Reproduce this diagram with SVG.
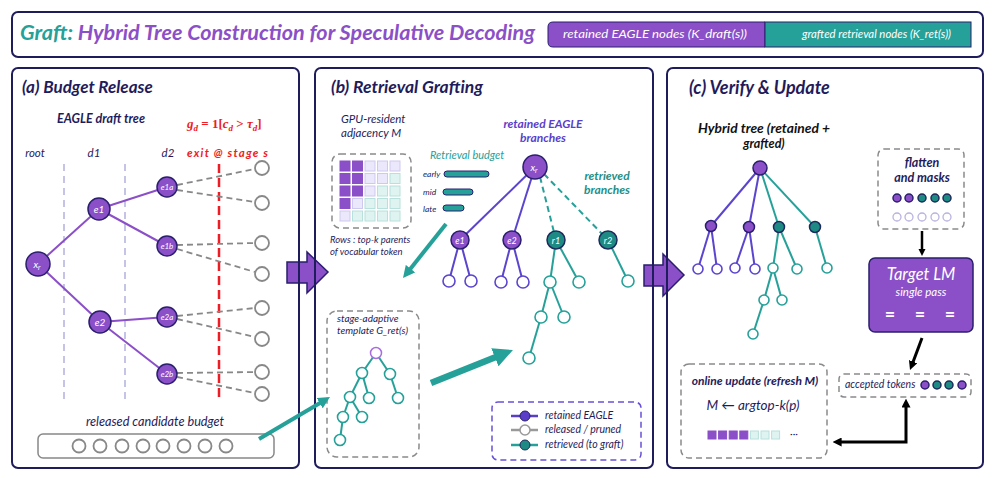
<svg xmlns="http://www.w3.org/2000/svg" width="996" height="478" viewBox="0 0 996 478">
<defs>
<style>
.t{font-family:Lato,"Liberation Sans",sans-serif;font-style:italic}
.b{font-weight:bold}
.navy{fill:#1f1c5c}
.white{fill:#ffffff}
.panel{fill:none;stroke:#1f1c5c;stroke-width:2}
.dbox{fill:none;stroke:#8a8a8a;stroke-width:1.5;stroke-dasharray:6 4}
.pn{fill:#8b4fc8;stroke:#2a1f6e;stroke-width:1.5}
.tn{fill:#1e8a84;stroke:#1f2a5c;stroke-width:1.5}
.hp{fill:#ffffff;stroke:#5b45cf;stroke-width:1.6}
.ht{fill:#ffffff;stroke:#26a199;stroke-width:1.6}
.hg{fill:#ffffff;stroke:#888888;stroke-width:1.8}
.lp{stroke:#8b4fc8;stroke-width:2;fill:none}
.lb{stroke:#5b45cf;stroke-width:2;fill:none}
.lt{stroke:#26a199;stroke-width:2;fill:none}
.lg{stroke:#888888;stroke-width:1.8;stroke-dasharray:6 4;fill:none}
.ltd{stroke:#26a199;stroke-width:2;stroke-dasharray:6 4;fill:none}
.vd{stroke:#c5c3e6;stroke-width:2;stroke-dasharray:7 5}
.rd{stroke:#ee1c24;stroke-width:2.5;stroke-dasharray:9 5}
.ta{stroke:#26a199;fill:none;marker-end:url(#tah)}
.ka{stroke:#000000;fill:none}
.big{fill:#8b4fc8;stroke:#2a1f6e;stroke-width:1.5}
.cp{fill:#8b4fc8;stroke:#8b4fc8;stroke-width:1}
.cl{fill:#ebe8fb;stroke:#cfc9f0;stroke-width:1}
.ct{fill:#dff3f1;stroke:#b8e0dc;stroke-width:1}
.bar{fill:#26a199;stroke:#2a2170;stroke-width:1}
.eq{fill:#ffffff;font-family:Lato,"Liberation Sans",sans-serif;font-weight:bold;font-size:18px}
</style>
<marker id="tah" viewBox="0 0 10 10" refX="4" refY="5" markerWidth="3" markerHeight="3" orient="auto" markerUnits="strokeWidth">
<path d="M0,0 L10,5 L0,10 z" fill="#26a199"/>
</marker>
<marker id="kah" viewBox="0 0 10 10" refX="4" refY="5" markerWidth="3" markerHeight="3" orient="auto-start-reverse" markerUnits="strokeWidth">
<path d="M0,0 L10,5 L0,10 z" fill="#000000"/>
</marker>
</defs>
<rect width="996" height="478" fill="#ffffff"/>

<!-- Title bar -->
<g id="title">
<rect x="12" y="12" width="971" height="45" rx="6" class="panel"/>
<text x="20" y="40" class="t b" font-size="20" textLength="515" lengthAdjust="spacingAndGlyphs"><tspan fill="#26a199">Graft:</tspan><tspan fill="#8b4fc8"> Hybrid Tree Construction for Speculative Decoding</tspan></text>
</g>
<g id="legend-bar">
<path d="M553,22 H765 V47 H553 Q548,47 548,42 V27 Q548,22 553,22 Z" fill="#8b4fc8" stroke="#2a1f6e" stroke-width="1"/>
<rect x="765" y="22" width="206" height="25" fill="#26a199" stroke="#2a1f6e" stroke-width="1"/>
<text x="563" y="38" class="t white" font-size="12" textLength="184" lengthAdjust="spacingAndGlyphs">retained EAGLE nodes (K_draft(s))</text>
<text x="802" y="38" class="t white" font-size="11" textLength="149" lengthAdjust="spacingAndGlyphs">grafted retrieval nodes (K_ret(s))</text>
</g>

<!-- Block arrows between panels -->
<g id="arrow-ab">
<path d="M287,262 H307 V252 L328,272 L307,293 V283 H287 Z" class="big"/>
</g>
<g id="arrow-bc">
<path d="M644,265 H663 V254 L684,275 L663,296 V286 H644 Z" class="big"/>
</g>

<!-- Panels -->
<g id="panel-a">
<rect x="12" y="68" width="287" height="400" rx="6" class="panel"/>
<text x="22" y="93" class="t b navy" font-size="17">(a) Budget Release</text>
<text x="101" y="123" class="t b navy" font-size="12.5" text-anchor="middle">EAGLE draft tree</text>
<text x="187" y="128" fill="#ee1c24" font-family="'Liberation Serif',serif" font-style="italic" font-weight="bold" font-size="13">g<tspan font-size="9" dy="3">d</tspan><tspan dy="-3" font-style="normal"> = 1[</tspan>c<tspan font-size="9" dy="3">d</tspan><tspan dy="-3" font-style="normal"> &gt; </tspan>τ<tspan font-size="9" dy="3">d</tspan><tspan dy="-3" font-style="normal">]</tspan></text>
<text x="35" y="157" class="t navy" font-size="11.5" text-anchor="middle">root</text>
<text x="94" y="157" class="t navy" font-size="11.5" text-anchor="middle">d1</text>
<text x="168" y="157" class="t navy" font-size="11.5" text-anchor="middle">d2</text>
<text x="187" y="157" class="t b" fill="#ee1c24" font-size="11.5" textLength="81">exit @ stage s</text>
<line x1="64" y1="164" x2="64" y2="402" class="vd"/>
<line x1="125" y1="164" x2="125" y2="402" class="vd"/>
<line x1="219" y1="164" x2="219" y2="402" class="rd"/>
<text x="155" y="426" class="t navy" font-size="12.7" text-anchor="middle">released candidate budget</text>
<rect x="38" y="434" width="236" height="24" rx="5" fill="#ffffff" stroke="#888888" stroke-width="1.5"/>
<g id="budget-slots">
<circle cx="79" cy="446" r="6.5" class="hg"/>
<circle cx="100" cy="446" r="6.5" class="hg"/>
<circle cx="122" cy="446" r="6.5" class="hg"/>
<circle cx="143" cy="446" r="6.5" class="hg"/>
<circle cx="163" cy="446" r="6.5" class="hg"/>
<circle cx="184" cy="446" r="6.5" class="hg"/>
<circle cx="205" cy="446" r="6.5" class="hg"/>
<circle cx="226" cy="446" r="6.5" class="hg"/>
</g>
</g>

<g id="panel-b">
<rect x="315" y="68" width="338" height="400" rx="6" class="panel"/>
<text x="331" y="93" class="t b navy" font-size="17.5">(b) Retrieval Grafting</text>
<text x="341" y="123" class="t navy" font-size="11.5">GPU-resident</text>
<text x="341" y="137" class="t navy" font-size="11.5">adjacency M</text>
<rect x="332" y="154" width="79" height="74" rx="8" class="dbox"/>
<g id="adjacency-grid">
<rect x="340" y="161" width="10" height="10" class="cp"/><rect x="352.5" y="161" width="10" height="10" class="cp"/><rect x="365" y="161" width="10" height="10" class="cl"/><rect x="377.5" y="161" width="10" height="10" class="cl"/><rect x="390" y="161" width="10" height="10" class="cl"/>
<rect x="340" y="173.5" width="10" height="10" class="cp"/><rect x="352.5" y="173.5" width="10" height="10" class="cp"/><rect x="365" y="173.5" width="10" height="10" class="cl"/><rect x="377.5" y="173.5" width="10" height="10" class="cl"/><rect x="390" y="173.5" width="10" height="10" class="ct"/>
<rect x="340" y="186" width="10" height="10" class="cp"/><rect x="352.5" y="186" width="10" height="10" class="cp"/><rect x="365" y="186" width="10" height="10" class="cl"/><rect x="377.5" y="186" width="10" height="10" class="ct"/><rect x="390" y="186" width="10" height="10" class="ct"/>
<rect x="340" y="198.5" width="10" height="10" class="cp"/><rect x="352.5" y="198.5" width="10" height="10" class="cl"/><rect x="365" y="198.5" width="10" height="10" class="ct"/><rect x="377.5" y="198.5" width="10" height="10" class="ct"/><rect x="390" y="198.5" width="10" height="10" class="ct"/>
<rect x="340" y="211" width="10" height="10" class="cl"/><rect x="352.5" y="211" width="10" height="10" class="ct"/><rect x="365" y="211" width="10" height="10" class="ct"/><rect x="377.5" y="211" width="10" height="10" class="ct"/><rect x="390" y="211" width="10" height="10" class="ct"/>
</g>
<text x="330" y="243" class="t navy" font-size="9.5">Rows : top-k parents</text>
<text x="330" y="254.5" class="t navy" font-size="9.5">of vocabular token</text>
<text x="430" y="159" class="t" fill="#26a199" font-size="11">Retrieval budget</text>
<text x="423" y="177" class="t navy" font-size="8.5">early</text>
<text x="423" y="195" class="t navy" font-size="8.5">mid</text>
<text x="423" y="212" class="t navy" font-size="8.5">late</text>
<rect x="444" y="171" width="45" height="6" rx="3" class="bar"/>
<rect x="443" y="189" width="30" height="6" rx="3" class="bar"/>
<rect x="443" y="205" width="21" height="6" rx="3" class="bar"/>
<text x="543" y="128" class="t b" fill="#5b3fc9" font-size="12" text-anchor="middle">retained EAGLE</text>
<text x="543" y="142" class="t b" fill="#5b3fc9" font-size="12" text-anchor="middle">branches</text>
<text x="607" y="180" class="t b" fill="#1f8f87" font-size="12" text-anchor="middle">retrieved</text>
<text x="607" y="194" class="t b" fill="#1f8f87" font-size="12" text-anchor="middle">branches</text>
<rect x="327" y="311" width="92" height="146" rx="10" class="dbox"/>
<text x="337" y="321.5" class="t navy" font-size="10">stage-adaptive</text>
<text x="337" y="334" class="t navy" font-size="10">template G_ret(s)</text>
<rect x="492" y="402" width="149" height="58" rx="6" fill="none" stroke="#6a50d8" stroke-width="1.5" stroke-dasharray="6 4"/>
<g id="legend-b">
<line x1="511" y1="416" x2="538" y2="416" stroke="#5a3ec8" stroke-width="2.5"/>
<circle cx="525" cy="416" r="5" fill="#5a3ec8" stroke="#2a1f6e" stroke-width="1"/>
<line x1="511" y1="430" x2="538" y2="430" stroke="#999999" stroke-width="2.5"/>
<circle cx="525" cy="430" r="5" fill="#ffffff" stroke="#999999" stroke-width="1.5"/>
<line x1="511" y1="445" x2="538" y2="445" stroke="#26a199" stroke-width="2.5"/>
<circle cx="525" cy="445" r="5" fill="#1e8a84" stroke="#1f2a5c" stroke-width="1"/>
<text x="545" y="419" class="t navy" font-size="10.5">retained EAGLE</text>
<text x="545" y="433" class="t navy" font-size="10.5">released / pruned</text>
<text x="545" y="448" class="t navy" font-size="10.5">retrieved (to graft)</text>
</g>
</g>

<g id="panel-c">
<rect x="667" y="68" width="316" height="400" rx="6" class="panel"/>
<text x="689" y="94" class="t b navy" font-size="18">(c) Verify &amp; Update</text>
<text x="764" y="133" class="t b" fill="#111111" font-size="12.5" text-anchor="middle" textLength="132" lengthAdjust="spacingAndGlyphs">Hybrid tree (retained +</text>
<text x="764" y="148" class="t b" fill="#111111" font-size="12.5" text-anchor="middle">grafted)</text>
<g id="flatten">
<rect x="878" y="149" width="86" height="80" rx="6" class="dbox"/>
<text x="922" y="167" class="t b navy" font-size="12.5" text-anchor="middle">flatten</text>
<text x="922" y="182" class="t b navy" font-size="12.5" text-anchor="middle">and masks</text>
<circle cx="897" cy="198" r="4" class="pn" stroke-width="1"/>
<circle cx="909" cy="198" r="4" class="pn" stroke-width="1"/>
<circle cx="922" cy="198" r="4" class="tn" stroke-width="1"/>
<circle cx="935" cy="198" r="4" class="tn" stroke-width="1"/>
<circle cx="947" cy="198" r="4" class="tn" stroke-width="1"/>
<circle cx="897" cy="217" r="4" fill="#ffffff" stroke="#b9b3e0" stroke-width="1.3"/>
<circle cx="909" cy="217" r="4" fill="#ffffff" stroke="#b9b3e0" stroke-width="1.3"/>
<circle cx="922" cy="217" r="4" fill="#ffffff" stroke="#b9b3e0" stroke-width="1.3"/>
<circle cx="935" cy="217" r="4" fill="#ffffff" stroke="#b9b3e0" stroke-width="1.3"/>
<circle cx="947" cy="217" r="4" fill="#ffffff" stroke="#b9b3e0" stroke-width="1.3"/>
</g>
<g id="target-lm">
<rect x="869" y="258" width="104" height="74" rx="6" fill="#8b4fc8" stroke="#2a1f6e" stroke-width="1.5"/>
<text x="921" y="280" class="t white" font-size="16.5" text-anchor="middle">Target LM</text>
<text x="921" y="296" class="t white" font-size="11.5" text-anchor="middle">single pass</text>
<text x="890" y="321" class="eq" text-anchor="middle">=</text>
<text x="920" y="321" class="eq" text-anchor="middle">=</text>
<text x="950" y="321" class="eq" text-anchor="middle">=</text>
</g>
<g id="accepted">
<rect x="839" y="374" width="132" height="23" rx="5" class="dbox"/>
<text x="845" y="388" class="t navy" font-size="10.5">accepted tokens</text>
<circle cx="925" cy="385" r="4" class="pn" stroke-width="1"/>
<circle cx="937" cy="385" r="4" class="tn" stroke-width="1"/>
<circle cx="949" cy="385" r="4" class="tn" stroke-width="1"/>
<circle cx="962" cy="385" r="4" class="pn" stroke-width="1"/>
</g>
<g id="online-update">
<rect x="681" y="364" width="146" height="94" rx="8" class="dbox"/>
<text x="755" y="385" class="t b navy" font-size="12" text-anchor="middle">online update (refresh M)</text>
<text x="753" y="410" class="t navy" font-size="13.5" text-anchor="middle">M ← argtop-k(p)</text>
<rect x="708" y="431" width="8" height="8" class="cp"/>
<rect x="718.6" y="431" width="8" height="8" class="cp"/>
<rect x="729.2" y="431" width="8" height="8" class="cp"/>
<rect x="739.8" y="431" width="8" height="8" class="cp"/>
<rect x="750.4" y="431" width="8" height="8" class="ct"/>
<rect x="761" y="431" width="8" height="8" class="ct"/>
<rect x="771.6" y="431" width="8" height="8" class="ct"/>
<text x="794" y="437" class="navy" font-family="Lato,'Liberation Sans',sans-serif" font-size="10" text-anchor="middle">···</text>
</g>
</g>

<!-- Connectors -->
<g id="connectors">
<line x1="38" y1="264" x2="99" y2="209" class="lp"/>
<line x1="38" y1="264" x2="100" y2="322" class="lp"/>
<line x1="99" y1="209" x2="167" y2="187" class="lp"/>
<line x1="99" y1="209" x2="167" y2="246" class="lp"/>
<line x1="100" y1="322" x2="167" y2="317" class="lp"/>
<line x1="100" y1="322" x2="167" y2="374" class="lp"/>
<line x1="177" y1="185" x2="255" y2="169" class="lg"/>
<line x1="177" y1="190" x2="255" y2="202" class="lg"/>
<line x1="177" y1="245" x2="255" y2="243" class="lg"/>
<line x1="177" y1="249" x2="255" y2="272" class="lg"/>
<line x1="177" y1="316" x2="255" y2="308" class="lg"/>
<line x1="177" y1="319" x2="255" y2="337" class="lg"/>
<line x1="177" y1="373" x2="255" y2="372" class="lg"/>
<line x1="177" y1="377" x2="255" y2="393" class="lg"/>
<line x1="535" y1="167" x2="460" y2="240" class="lb"/>
<line x1="535" y1="167" x2="512" y2="240" class="lb"/>
<line x1="540" y1="177" x2="556" y2="240" class="ltd"/>
<line x1="544" y1="174" x2="608" y2="240" class="ltd"/>
<line x1="460" y1="240" x2="449" y2="281" class="lb"/>
<line x1="460" y1="240" x2="471" y2="281" class="lb"/>
<line x1="512" y1="240" x2="501" y2="282" class="lb"/>
<line x1="512" y1="240" x2="523" y2="282" class="lb"/>
<line x1="556" y1="240" x2="550" y2="282" class="lt"/>
<line x1="556" y1="240" x2="579" y2="282" class="lt"/>
<line x1="608" y1="240" x2="628" y2="281" class="lt"/>
<line x1="550" y1="282" x2="541" y2="317" class="lt"/>
<line x1="550" y1="282" x2="564" y2="317" class="lt"/>
<line x1="541" y1="317" x2="529" y2="358" class="lt"/>
<line x1="376" y1="353" x2="362" y2="373" class="lt" stroke-width="1.6"/>
<line x1="376" y1="353" x2="390" y2="374" class="lt" stroke-width="1.6"/>
<line x1="362" y1="373" x2="350" y2="397" class="lt" stroke-width="1.6"/>
<line x1="362" y1="373" x2="369" y2="398" class="lt" stroke-width="1.6"/>
<line x1="390" y1="374" x2="398" y2="398" class="lt" stroke-width="1.6"/>
<line x1="350" y1="397" x2="343" y2="417" class="lt" stroke-width="1.6"/>
<line x1="350" y1="397" x2="362" y2="417" class="lt" stroke-width="1.6"/>
<line x1="343" y1="417" x2="340" y2="440" class="lt" stroke-width="1.6"/>
<line x1="760" y1="168" x2="711" y2="226" class="lb"/>
<line x1="760" y1="168" x2="749" y2="227" class="lb"/>
<line x1="760" y1="168" x2="779" y2="227" class="lt"/>
<line x1="760" y1="168" x2="815" y2="227" class="lt"/>
<line x1="711" y1="226" x2="698" y2="269" class="lb"/>
<line x1="711" y1="226" x2="717" y2="269" class="lb"/>
<line x1="749" y1="227" x2="735" y2="268" class="lb"/>
<line x1="749" y1="227" x2="755" y2="269" class="lb"/>
<line x1="779" y1="227" x2="773" y2="268" class="lt"/>
<line x1="779" y1="227" x2="797" y2="269" class="lt"/>
<line x1="815" y1="227" x2="827" y2="268" class="lt"/>
<line x1="773" y1="268" x2="764" y2="300" class="lt"/>
<line x1="773" y1="268" x2="782" y2="300" class="lt"/>
<line x1="764" y1="300" x2="753" y2="334" class="lt"/>
<line x1="259" y1="439" x2="323.8" y2="400.7" class="ta" stroke-width="4"/>
<line x1="446" y1="224" x2="407.5" y2="272.4" class="ta" stroke-width="4"/>
<line x1="431" y1="383" x2="502.1" y2="354.4" class="ta" stroke-width="6.5"/>
<line x1="922" y1="231" x2="922" y2="251.5" class="ka" stroke-width="2.5" marker-end="url(#kah)"/>
<line x1="922" y1="338" x2="911.9" y2="365" class="ka" stroke-width="3" marker-end="url(#kah)"/>
<path d="M906,404 L906,442 L838,442" class="ka" stroke-width="3" marker-start="url(#kah)" marker-end="url(#kah)"/>
</g>

<g id="node-xr-a"><circle cx="38" cy="264" r="12" class="pn"/><text x="37" y="268" class="t white" font-size="10" text-anchor="middle">x<tspan font-size="7" dy="2">r</tspan></text></g>
<g id="node-e1-a"><circle cx="99" cy="209" r="11" class="pn"/><text x="99" y="213" class="t white" font-size="10" text-anchor="middle">e1</text></g>
<g id="node-e2-a"><circle cx="100" cy="322" r="11" class="pn"/><text x="100" y="326" class="t white" font-size="10" text-anchor="middle">e2</text></g>
<g id="node-e1a"><circle cx="167" cy="187" r="10" class="pn"/><text x="167" y="190" class="t white" font-size="8" text-anchor="middle">e1a</text></g>
<g id="node-e1b"><circle cx="167" cy="246" r="10" class="pn"/><text x="167" y="249" class="t white" font-size="8" text-anchor="middle">e1b</text></g>
<g id="node-e2a"><circle cx="167" cy="317" r="10" class="pn"/><text x="167" y="320" class="t white" font-size="8" text-anchor="middle">e2a</text></g>
<g id="node-e2b"><circle cx="167" cy="374" r="10" class="pn"/><text x="167" y="377" class="t white" font-size="8" text-anchor="middle">e2b</text></g>
<g id="pruned-a">
<circle cx="262" cy="168" r="7" class="hg"/>
<circle cx="262" cy="203" r="7" class="hg"/>
<circle cx="262" cy="243" r="7" class="hg"/>
<circle cx="262" cy="274" r="7" class="hg"/>
<circle cx="262" cy="308" r="7" class="hg"/>
<circle cx="262" cy="339" r="7" class="hg"/>
<circle cx="262" cy="372" r="7" class="hg"/>
<circle cx="262" cy="394" r="7" class="hg"/>
</g>

<g id="node-xr-b"><circle cx="535" cy="167" r="12" class="pn"/><text x="534" y="171" class="t white" font-size="10" text-anchor="middle">x<tspan font-size="7" dy="2">r</tspan></text></g>
<g id="node-e1-b"><circle cx="460" cy="240" r="9" class="pn"/><text x="460" y="244" class="t white" font-size="9" text-anchor="middle">e1</text></g>
<g id="node-e2-b"><circle cx="512" cy="240" r="9" class="pn"/><text x="512" y="244" class="t white" font-size="9" text-anchor="middle">e2</text></g>
<g id="node-r1-b"><circle cx="556" cy="240" r="9" class="tn"/><text x="556" y="244" class="t white" font-size="9" text-anchor="middle">r1</text></g>
<g id="node-r2-b"><circle cx="608" cy="240" r="9" class="tn"/><text x="608" y="244" class="t white" font-size="9" text-anchor="middle">r2</text></g>
<g id="leaves-b">
<circle cx="449" cy="281" r="6" class="hp"/>
<circle cx="471" cy="281" r="6" class="hp"/>
<circle cx="501" cy="282" r="6" class="hp"/>
<circle cx="523" cy="282" r="6" class="hp"/>
<circle cx="550" cy="282" r="6" class="ht"/>
<circle cx="579" cy="282" r="6" class="ht"/>
<circle cx="628" cy="281" r="6" class="ht"/>
<circle cx="541" cy="317" r="6" class="ht"/>
<circle cx="564" cy="317" r="6" class="ht"/>
<circle cx="529" cy="358" r="6" class="ht"/>
</g>
<g id="template-nodes">
<circle cx="376" cy="353" r="5.5" fill="#ffffff" stroke="#a86ee0" stroke-width="1.5"/>
<circle cx="362" cy="373" r="5.5" class="ht"/>
<circle cx="390" cy="374" r="5.5" class="ht"/>
<circle cx="350" cy="397" r="5.5" class="ht"/>
<circle cx="369" cy="398" r="5.5" class="ht"/>
<circle cx="398" cy="398" r="5.5" class="ht"/>
<circle cx="343" cy="417" r="5.5" class="ht"/>
<circle cx="362" cy="417" r="5.5" class="ht"/>
<circle cx="340" cy="440" r="5.5" class="ht"/>
</g>

<g id="hybrid-root"><circle cx="760" cy="168" r="7" class="pn"/></g>
<g id="hybrid-l1">
<circle cx="711" cy="226" r="5.5" class="pn"/>
<circle cx="749" cy="227" r="5.5" class="pn"/>
<circle cx="779" cy="227" r="5.5" class="tn"/>
<circle cx="815" cy="227" r="5.5" class="tn"/>
</g>
<g id="hybrid-leaves">
<circle cx="698" cy="269" r="5" class="hp"/>
<circle cx="717" cy="269" r="5" class="hp"/>
<circle cx="735" cy="268" r="5" class="hp"/>
<circle cx="755" cy="269" r="5" class="hp"/>
<circle cx="773" cy="268" r="5" class="ht"/>
<circle cx="797" cy="269" r="5" class="ht"/>
<circle cx="827" cy="268" r="5" class="ht"/>
<circle cx="764" cy="300" r="5" class="ht"/>
<circle cx="782" cy="300" r="5" class="ht"/>
<circle cx="753" cy="334" r="5" class="ht"/>
</g>
</svg>
